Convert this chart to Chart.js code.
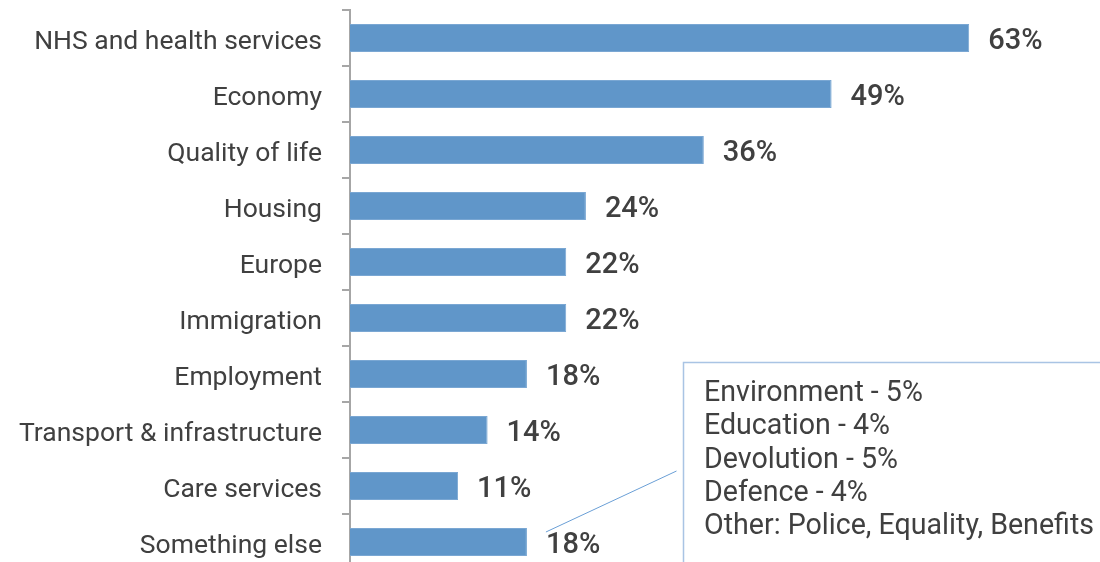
<!DOCTYPE html>
<html lang="en">
<head>
  <meta charset="UTF-8" />
  <title>Issues</title>
  <script src="https://cdn.jsdelivr.net/npm/chart.js"></script>
  <style>
    html, body { margin: 0; padding: 0; background: #fff; overflow: hidden; }
    canvas { display: block; }
  </style>
</head>
<body>
  <canvas id="issuesChart" width="1100" height="580"></canvas>

  <script>
    const categories = ['NHS and health services', 'Economy', 'Quality of life', 'Housing', 'Europe',
      'Immigration', 'Employment', 'Transport & infrastructure', 'Care services', 'Something else'];
    const values = [63, 49, 36, 24, 22, 22, 18, 14, 11, 18];
    const otherLines = ['Environment - 5%', 'Education - 4%', 'Devolution - 5%', 'Defence - 4%',
      'Other: Police, Equality, Benefits'];

    const textColor = '#404040';
    const fontFamily = 'Roboto, "Noto Sans", sans-serif';

    const valueLabels = {
      id: 'valueLabels',
      afterDatasetsDraw(chart) {
        const ctx = chart.ctx;
        const meta = chart.getDatasetMeta(0);
        ctx.save();
        ctx.fillStyle = textColor;
        ctx.font = '500 29px ' + fontFamily;
        ctx.textBaseline = 'middle';
        ctx.textAlign = 'left';
        meta.data.forEach((bar, i) => {
          ctx.fillText(values[i] + '%', bar.x + 19, bar.y + 4);
        });
        ctx.restore();
      }
    };

    const callout = {
      id: 'callout',
      afterDraw(chart) {
        const ctx = chart.ctx;
        const meta = chart.getDatasetMeta(0);
        const last = meta.data[meta.data.length - 1];
        const boxX = 683.5, boxY = 362.5;
        ctx.save();
        // leader line
        ctx.strokeStyle = '#6a9fd6';
        ctx.lineWidth = 1;
        ctx.beginPath();
        ctx.moveTo(last.x + 19, last.y - 10);
        ctx.lineTo(boxX - 7, 471);
        ctx.stroke();
        // box
        ctx.strokeStyle = '#a9c4e4';
        ctx.lineWidth = 1.5;
        ctx.beginPath();
        ctx.moveTo(boxX, chart.height);
        ctx.lineTo(boxX, boxY);
        ctx.lineTo(chart.width, boxY);
        ctx.stroke();
        ctx.fillStyle = textColor;
        ctx.font = '28.6px ' + fontFamily;
        ctx.textBaseline = 'middle';
        otherLines.forEach((t, i) => {
          ctx.fillText(t, 704, 394 + i * 33.2);
        });
        ctx.restore();
      }
    };

    new Chart(document.getElementById('issuesChart'), {
      type: 'bar',
      data: {
        labels: categories,
        datasets: [{
          data: values,
          backgroundColor: '#6096c9',
          borderColor: '#7aa7d3',
          borderWidth: 1,
          barPercentage: 0.5,
          categoryPercentage: 1
        }]
      },
      options: {
        indexAxis: 'y',
        responsive: false,
        animation: false,
        layout: { padding: { top: 10, right: 62, bottom: 10, left: 0 } },
        plugins: {
          legend: { display: false },
          tooltip: { enabled: false }
        },
        scales: {
          x: { display: false, min: 0, max: 70 },
          y: {
            afterFit(scale) {
              scale.width = 350;
              scale.paddingTop = 0;
              scale.paddingBottom = 0;
            },
            border: { display: true, color: '#a6a6a6', width: 2 },
            grid: {
              display: true,
              offset: true,
              drawOnChartArea: false,
              drawTicks: true,
              tickLength: 8,
              color: '#a6a6a6',
              lineWidth: 2
            },
            ticks: {
              color: textColor,
              padding: 20,
              labelOffset: 4,
              font: { family: fontFamily, size: 26.5 }
            }
          }
        }
      },
      plugins: [valueLabels, callout]
    });
  </script>
</body>
</html>
